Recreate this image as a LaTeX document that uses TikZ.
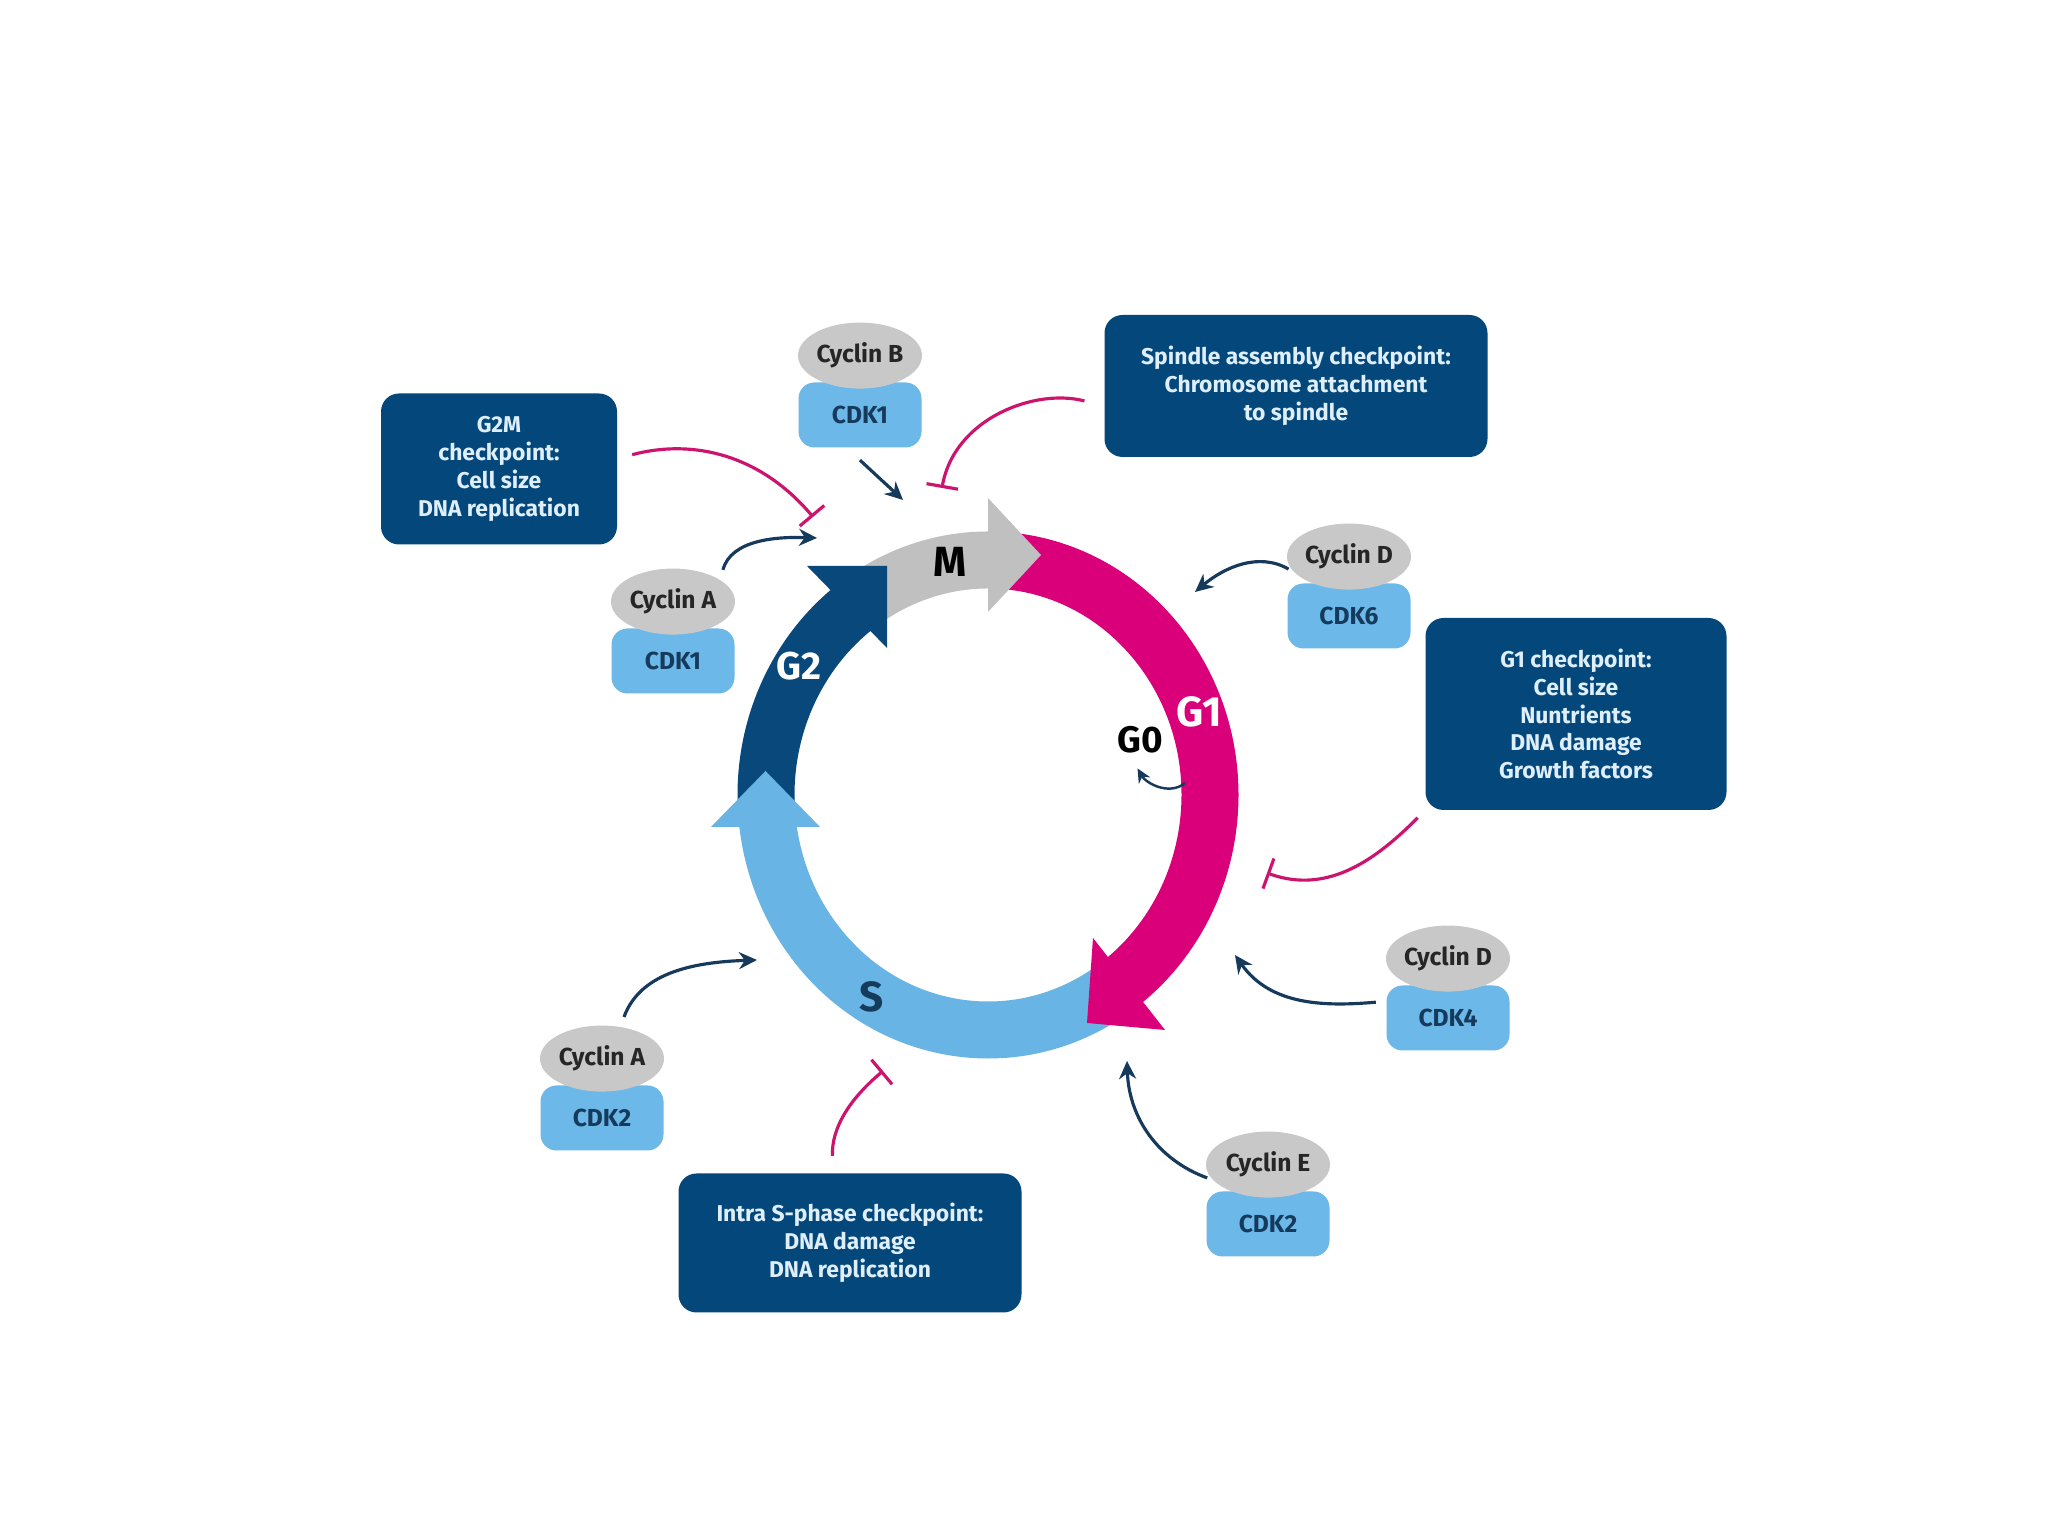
\documentclass[tikz,border=0pt]{standalone}
\usepackage{fontspec}
\setmainfont{Fira Sans}
\usepackage{xcolor}
\definecolor{boxblue}{RGB}{4,71,122}
\definecolor{boxtext}{RGB}{222,238,250}
\definecolor{phasem}{RGB}{192,192,192}
\definecolor{phaseg}{RGB}{218,0,122}
\definecolor{phases}{RGB}{104,180,228}
\definecolor{phaseh}{RGB}{8,72,122}
\definecolor{cdkblue}{RGB}{108,184,232}
\definecolor{cyclingrey}{RGB}{200,200,200}
\definecolor{navy}{RGB}{22,58,92}
\definecolor{inhib}{RGB}{204,20,110}
\usepackage{tikz}
\usetikzlibrary{shapes.geometric, arrows.meta, positioning}
\tikzset{
  checkpoint/.style={
    rectangle, rounded corners=1.8mm, fill=boxblue, text=boxtext,
    align=center, inner sep=0pt,
    font=\fontsize{6.5}{7.9}\selectfont\bfseries
  },
  cdk/.style={
    rectangle, rounded corners=1.6mm, fill=cdkblue,
    minimum width=1.23cm, minimum height=0.65cm, text=navy,
    font=\fontsize{7}{8}\selectfont\bfseries
  },
  cyclin/.style={
    ellipse, fill=cyclingrey, inner sep=-1.5pt,
    minimum width=1.24cm, minimum height=0.66cm, text=black!85,
    font=\fontsize{7}{8}\selectfont\bfseries
  },
  phase/.style={font=\fontsize{12}{12}\selectfont\bfseries},
  act/.style={draw=navy, line width=0.9pt, -{Stealth[length=1.8mm,width=1.7mm]}},
  inhibit/.style={draw=inhib, line width=0.9pt, -{Bar[width=3.2mm,line width=0.9pt]}},
}
\begin{document}
\begin{tikzpicture}
  \fill [white] (0,0) rectangle (20.48,15.36);
  \useasboundingbox (0,0) rectangle (20.48,15.36);

  \begin{scope}[shift={(9.88,7.41)}]
    \foreach \col/\from/\to in {phasem/124/89, phaseg/86/-54, phases/-56/-174, phaseh/184/126}
      \draw [\col, line width=0.57cm] (\from:2.22 and 2.35)
        arc [start angle=\from, end angle=\to, x radius=2.22, y radius=2.35];
  \end{scope}
  \fill [phasem] (9.88,10.38) -- (10.41,9.81) -- (9.88,9.24) -- cycle;
  \fill [phaseg] (10.93,5.98) -- (10.87,5.13) -- (11.65,5.06) -- cycle;
  \fill [phases] (7.11,7.09) -- (7.655,7.65) -- (8.20,7.09) -- cycle;
  \fill [phaseh] (8.07,9.70) -- (8.87,9.70) -- (8.87,8.88) -- cycle;

  \node (mlab)    [phase]                                   at (9.50,9.74) {M};
  \node (g1lab)   [phase, text=white]                       at (11.99,8.24) {G1};
  \node (g0lab)   [phase, font=\fontsize{10.5}{11}\selectfont\bfseries] at (11.40,7.96) {G0};
  \node (g2lab)   [phase, text=white, font=\fontsize{11}{11}\selectfont\bfseries] at (7.99,8.70) {G2};
  \node (slab)    [phase, text=navy]                        at (8.72,5.39) {S};

  \node (g2m)     [checkpoint, minimum width=2.36cm, minimum height=1.51cm] at (4.99,10.67)
    {G2M\\checkpoint:\\Cell size\\DNA replication};
  \node (spindle) [checkpoint, minimum width=3.83cm, minimum height=1.42cm] at (12.96,11.50)
    {Spindle assembly checkpoint:\\Chromosome attachment\\to spindle};
  \node (g1cp)    [checkpoint, minimum width=3.01cm, minimum height=1.92cm] at (15.76,8.22)
    {G1 checkpoint:\\Cell size\\Nuntrients\\DNA damage\\Growth factors};
  \node (intras)  [checkpoint, minimum width=3.43cm, minimum height=1.39cm] at (8.50,2.93)
    {Intra S-phase checkpoint:\\DNA damage\\DNA replication};

  \node (cdkB)  [cdk] at (8.60,11.21) {CDK1};
  \node (cycB)  [cyclin, above=-0.075cm of cdkB] {Cyclin B};
  \node (cdkA1) [cdk] at (6.73,8.75) {CDK1};
  \node (cycA1) [cyclin, above=-0.075cm of cdkA1] {Cyclin A};
  \node (cdkD6) [cdk] at (13.49,9.20) {CDK6};
  \node (cycD6) [cyclin, above=-0.075cm of cdkD6] {Cyclin D};
  \node (cdkD4) [cdk] at (14.48,5.18) {CDK4};
  \node (cycD4) [cyclin, above=-0.075cm of cdkD4] {Cyclin D};
  \node (cdkE)  [cdk] at (12.68,3.12) {CDK2};
  \node (cycE)  [cyclin, above=-0.075cm of cdkE] {Cyclin E};
  \node (cdkA2) [cdk] at (6.02,4.18) {CDK2};
  \node (cycA2) [cyclin, above=-0.075cm of cdkA2] {Cyclin A};

  \coordinate (mend)   at (9.03,10.36);
  \coordinate (g2end)  at (8.17,9.98);
  \coordinate (g1top)  at (11.95,9.44);
  \coordinate (g1low)  at (12.35,5.81);
  \coordinate (sstart) at (11.27,4.75);
  \coordinate (smid)   at (7.57,5.76);
  \coordinate (g2mbar) at (8.13,10.19);
  \coordinate (spbar)  at (9.42,10.48);
  \coordinate (g1bar)  at (12.67,6.63);
  \coordinate (sbar)   at (8.83,4.65);
  \coordinate (g0from) at (11.85,7.53);

  \draw [act] ([yshift=-1.2mm]cdkB.south) -- (mend);
  \draw [act, shorten <=1mm] (cycA1.25) to[out=75, in=178] (g2end);
  \draw [act, shorten <=0.5mm] (cycD6.195) to[out=150, in=40] (g1top);
  \draw [act, shorten <=1mm] (cdkD4.165) to[out=185, in=-55] (g1low);
  \draw [act, shorten <=0.5mm] (cycE.195) to[out=160, in=-88] (sstart);
  \draw [act, shorten <=1mm] (cycA2.60) to[out=70, in=182] (smid);
  \draw [act, line width=0.7pt, -{Stealth[length=1.4mm,width=1.3mm]}, shorten >=0.3mm]
    (g0from) to[out=-140, in=-60] ([xshift=-0.4mm]g0lab.south);

  \draw [inhibit, shorten <=1.5mm] (g2m.5) to[out=15, in=130] (g2mbar);
  \draw [inhibit, shorten <=2mm] (spindle.186) to[out=165, in=80] (spbar);
  \draw [inhibit, shorten <=1mm] (g1cp.south west) to[out=-135, in=-20] (g1bar);
  \draw [inhibit, shorten <=1.7mm] ([xshift=-1.7mm]intras.north) to[out=92, in=-140] (sbar);
\end{tikzpicture}
\end{document}
